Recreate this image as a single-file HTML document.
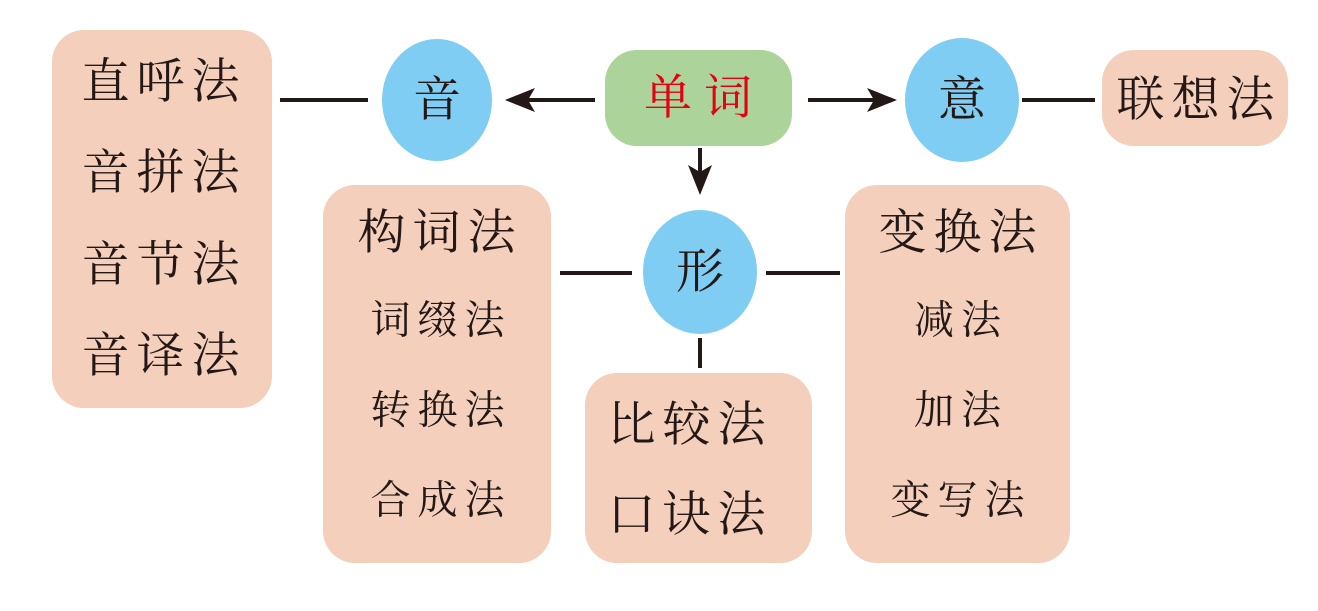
<!DOCTYPE html>
<html><head><meta charset="utf-8"><style>
html,body{margin:0;padding:0;background:#fff}
svg text{font-family:"Liberation Serif","Noto Serif CJK SC",serif;fill:#231815;text-anchor:middle;dominant-baseline:central}
</style></head><body>
<svg width="1318" height="606" viewBox="0 0 1318 606" xmlns="http://www.w3.org/2000/svg">
<g fill="#f4cfbc">
<rect x="52" y="30" width="220" height="378" rx="32"/>
<rect x="1102" y="50" width="186" height="96" rx="32"/>
<rect x="323" y="185" width="228" height="378" rx="32"/>
<rect x="585" y="373" width="227" height="190" rx="32"/>
<rect x="845" y="185" width="225" height="378" rx="32"/>
</g>
<rect x="605" y="50" width="187" height="96" rx="32" fill="#acd39a"/>
<g fill="#7fcdf3">
<ellipse cx="437" cy="100" rx="55" ry="61"/>
<ellipse cx="962" cy="100" rx="57" ry="62"/>
<ellipse cx="700" cy="272" rx="57" ry="62"/>
</g>
<g stroke="#231815" stroke-width="4">
<line x1="280" y1="100" x2="368" y2="100"/>
<line x1="1022" y1="100" x2="1095" y2="100"/>
<line x1="560" y1="273" x2="632" y2="273"/>
<line x1="766" y1="273" x2="840" y2="273"/>
<line x1="700" y1="338" x2="700" y2="368"/>
<line x1="595" y1="100" x2="525" y2="100"/>
<line x1="808" y1="100" x2="875" y2="100"/>
<line x1="700" y1="148" x2="700" y2="178"/>
</g>
<g fill="#231815">
<polygon points="505,100 535,88 528,100 535,112"/>
<polygon points="897,100 867,88 874,100 867,112"/>
<polygon points="700,195 688,165 700,172 712,165"/>
</g>
<g font-size="48" letter-spacing="7">
<text x="164" y="82">直呼法</text>
<text x="164" y="173">音拼法</text>
<text x="164" y="265">音节法</text>
<text x="164" y="356">音译法</text>
<text x="1199" y="100">联想法</text>
<text x="440" y="233">构词法</text>
<text x="961" y="233">变换法</text>
<text x="690" y="425">比较法</text>
<text x="690" y="515">口诀法</text>
</g>
<g font-size="48">
<text x="437" y="100">音</text>
<text x="962" y="100">意</text>
<text x="700" y="272">形</text>
<text x="698" y="98" style="fill:#e60012">单 词</text>
</g>
<g font-size="40" letter-spacing="7">
<text x="441" y="320">词缀法</text>
<text x="441" y="410">转换法</text>
<text x="441" y="500">合成法</text>
<text x="961" y="320">减法</text>
<text x="961" y="410">加法</text>
<text x="961" y="500">变写法</text>
</g>
</svg>
</body></html>
